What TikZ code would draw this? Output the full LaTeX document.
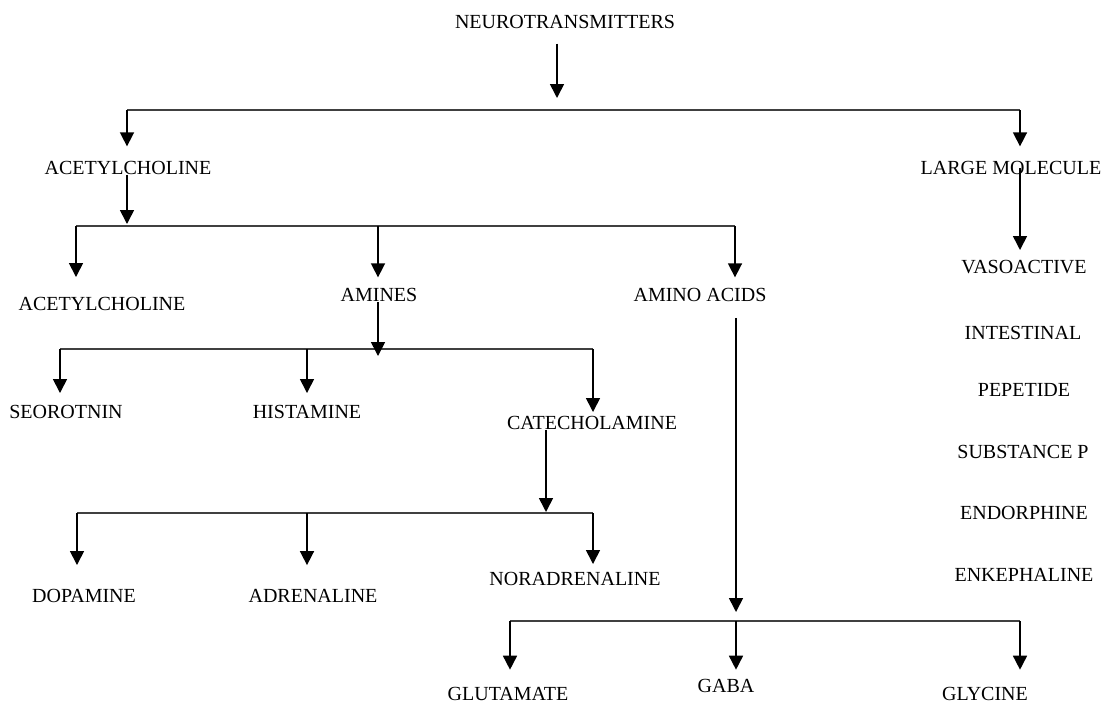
\documentclass[tikz,border=0pt]{standalone}
\usepackage{fontspec}
\setmainfont{Liberation Serif}
\usetikzlibrary{arrows.meta}
\tikzset{
  lbl/.style={font=\fontsize{15}{18}\selectfont, inner sep=0pt},
  barln/.style={line width=1.4pt, black!75},
  downln/.style={-{Triangle[length=10.5pt,width=10.5pt]}, line width=1.2pt},
}

\begin{document}
\begin{tikzpicture}[x=0.75pt, y=-0.75pt]
    \useasboundingbox (0,0) rectangle (1102,704);
    % labels
    \node[lbl] (nt) at (565,22) {NEUROTRANSMITTERS};
    \node[lbl] (ach) at (128,168) {ACETYLCHOLINE};
    \node[lbl] (lm) at (1011,168) {LARGE MOLECULE};
    \node[lbl] (ach2) at (102,304) {ACETYLCHOLINE};
    \node[lbl] (ami) at (379,295) {AMINES};
    \node[lbl] (aa) at (700,295) {AMINO ACIDS};
    \node[lbl] (ser) at (66,412) {SEOROTNIN};
    \node[lbl] (his) at (307,412) {HISTAMINE};
    \node[lbl] (cat) at (592,423) {CATECHOLAMINE};
    \node[lbl] (dop) at (84,596) {DOPAMINE};
    \node[lbl] (adr) at (313,596) {ADRENALINE};
    \node[lbl] (nor) at (575,579) {NORADRENALINE};
    \node[lbl] (glu) at (508,694) {GLUTAMATE};
    \node[lbl] (gaba) at (726,686) {GABA};
    \node[lbl] (gly) at (985,694) {GLYCINE};
    % large molecule list
    \node[lbl] (vas) at (1024,267) {VASOACTIVE};
    \node[lbl] (int) at (1023,333) {INTESTINAL};
    \node[lbl] (pep) at (1024,390) {PEPETIDE};
    \node[lbl] (sub) at (1023,452) {SUBSTANCE P};
    \node[lbl] (end) at (1024,513) {ENDORPHINE};
    \node[lbl] (enk) at (1024,575) {ENKEPHALINE};
    % junctions
    \coordinate (j1) at (557,98);
    \coordinate (b1l) at (127,110);
    \coordinate (b1r) at (1020,110);
    \coordinate (j2) at (127,224);
    \coordinate (b2l) at (76,226);
    \coordinate (b2m) at (378,226);
    \coordinate (b2r) at (735,226);
    \coordinate (j3) at (378,356);
    \coordinate (b3l) at (60,349);
    \coordinate (b3m) at (307,349);
    \coordinate (b3r) at (593,349);
    \coordinate (j4) at (546,512);
    \coordinate (b4l) at (77,513);
    \coordinate (b4m) at (307,513);
    \coordinate (b4r) at (593,513);
    \coordinate (j5) at (736,612);
    \coordinate (b5l) at (510,621);
    \coordinate (b5m) at (736,621);
    \coordinate (b5r) at (1020,621);
    \coordinate (j6) at (1020,250);
    % bars
    \draw[barln] (b1l) -- (b1r);
    \draw[barln] (b2l) -- (b2r);
    \draw[barln] (b3l) -- (b3r);
    \draw[barln] (b4l) -- (b4r);
    \draw[barln] (b5l) -- (b5r);
    % neurotransmitters
    \draw[downln] ([yshift=-11pt]nt.south -| j1) -- (j1);
    \draw[downln, shorten >=11pt] (b1l) -- (ach.north -| b1l);
    \draw[downln, shorten >=11pt] (b1r) -- (lm.north -| b1r);
    % acetylcholine
    \draw[downln] (ach.south -| j2) -- (j2);
    \draw[downln, shorten >=15pt] (b2l) -- (ach2.north -| b2l);
    \draw[downln, shorten >=8pt] (b2m) -- (ami.north -| b2m);
    \draw[downln, shorten >=8pt] (b2r) -- (aa.north -| b2r);
    % amines
    \draw[downln] (ami.south -| j3) -- (j3);
    \draw[downln, shorten >=9pt] (b3l) -- (ser.north -| b3l);
    \draw[downln, shorten >=9pt] (b3m) -- (his.north -| b3m);
    \draw[downln, shorten >=3pt] (b3r) -- (cat.north -| b3r);
    % catecholamine
    \draw[downln] (cat.south -| j4) -- (j4);
    \draw[downln, shorten >=18pt] (b4l) -- (dop.north -| b4l);
    \draw[downln, shorten >=18pt] (b4m) -- (adr.north -| b4m);
    \draw[downln, shorten >=6pt] (b4r) -- (nor.north -| b4r);
    % amino acids
    \draw[downln] ([yshift=-12pt]aa.south -| j5) -- (j5);
    \draw[downln, shorten >=13pt] (b5l) -- (glu.north -| b5l);
    \draw[downln, shorten >=7pt] (b5m) -- (gaba.north -| b5m);
    \draw[downln, shorten >=13pt] (b5r) -- (gly.north -| b5r);
    % large molecule
    \draw[downln] (lm.center -| j6) -- (j6);
\end{tikzpicture}
\end{document}
